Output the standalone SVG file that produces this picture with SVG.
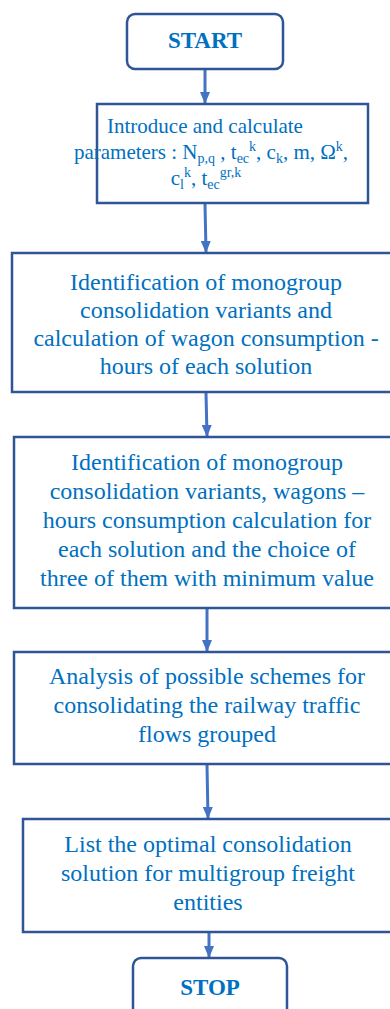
<svg xmlns="http://www.w3.org/2000/svg" width="390" height="1009" viewBox="0 0 390 1009">
  <style>
    .box { fill: #ffffff; stroke: #2F5597; stroke-width: 2.5; }
    .txt { font-family: "Liberation Serif", "Times New Roman", serif; fill: #0070C0; text-anchor: middle; }
    .body { font-size: 24px; }
    .small { font-size: 21px; }
    .term { font-size: 23px; font-weight: bold; }
    .s { font-size: 14px; }
    .link { stroke: #4472C4; stroke-width: 3; fill: none; marker-end: url(#head); }
  </style>
  <defs>
    <marker id="head" viewBox="0 0 12 10" refX="11" refY="5" markerWidth="12" markerHeight="10" markerUnits="userSpaceOnUse" orient="auto">
      <path d="M0,0 L12,5 L0,10 Z" fill="#4472C4"/>
    </marker>
  </defs>
  <rect width="390" height="1009" fill="#ffffff"/>

  <g id="connectors">
    <line class="link" x1="205" y1="70" x2="205" y2="103"/>
    <line class="link" x1="205" y1="204" x2="206" y2="252"/>
    <line class="link" x1="206" y1="393" x2="207" y2="436"/>
    <line class="link" x1="207" y1="609" x2="207" y2="651"/>
    <line class="link" x1="207" y1="765" x2="208" y2="818"/>
    <line class="link" x1="209" y1="933" x2="209" y2="957"/>
  </g>

  <g id="start">
    <rect class="box" x="127" y="14" width="156" height="55" rx="8"/>
    <text class="txt term" x="205" y="48">START</text>
  </g>

  <g id="parameters">
    <rect class="box" x="97" y="104" width="271" height="99"/>
    <text class="txt small" x="205" y="133">Introduce and calculate</text>
    <text class="txt small" x="211" y="159">parameters : N<tspan class="s" dy="4">p,q</tspan><tspan dy="-4"> , t</tspan><tspan class="s" dy="4">ec</tspan><tspan class="s" dy="-12">k</tspan><tspan dy="8">, c</tspan><tspan class="s" dy="4">k</tspan><tspan dy="-4">, m, Ω</tspan><tspan class="s" dy="-8">k</tspan><tspan dy="8">,</tspan></text>
    <text class="txt small" x="206" y="185">c<tspan class="s" dy="4">l</tspan><tspan class="s" dy="-12">k</tspan><tspan dy="8">, t</tspan><tspan class="s" dy="4">ec</tspan><tspan class="s" dy="-12">gr,k</tspan></text>
  </g>

  <g id="monogroup-variants">
    <rect class="box" x="12" y="253" width="390" height="139"/>
    <text class="txt body" x="206" y="290">Identification of monogroup</text>
    <text class="txt body" x="206" y="318">consolidation variants and</text>
    <text class="txt body" x="206" y="346">calculation of wagon consumption -</text>
    <text class="txt body" x="206" y="374">hours of each solution</text>
  </g>

  <g id="monogroup-choice">
    <rect class="box" x="14" y="437" width="390" height="171"/>
    <text class="txt body" x="207" y="470">Identification of monogroup</text>
    <text class="txt body" x="207" y="499">consolidation variants, wagons –</text>
    <text class="txt body" x="207" y="528">hours consumption calculation for</text>
    <text class="txt body" x="207" y="557">each solution and the choice of</text>
    <text class="txt body" x="207" y="586">three of them with minimum value</text>
  </g>

  <g id="scheme-analysis">
    <rect class="box" x="14" y="652" width="390" height="112"/>
    <text class="txt body" x="207" y="684">Analysis of possible schemes for</text>
    <text class="txt body" x="207" y="713">consolidating the railway traffic</text>
    <text class="txt body" x="207" y="742">flows grouped</text>
  </g>

  <g id="optimal-solution">
    <rect class="box" x="23" y="819" width="390" height="113"/>
    <text class="txt body" x="208" y="852">List the optimal consolidation</text>
    <text class="txt body" x="208" y="881">solution for multigroup freight</text>
    <text class="txt body" x="208" y="910">entities</text>
  </g>

  <g id="stop">
    <rect class="box" x="133" y="958" width="154" height="70" rx="8"/>
    <text class="txt term" x="210" y="995">STOP</text>
  </g>
</svg>
